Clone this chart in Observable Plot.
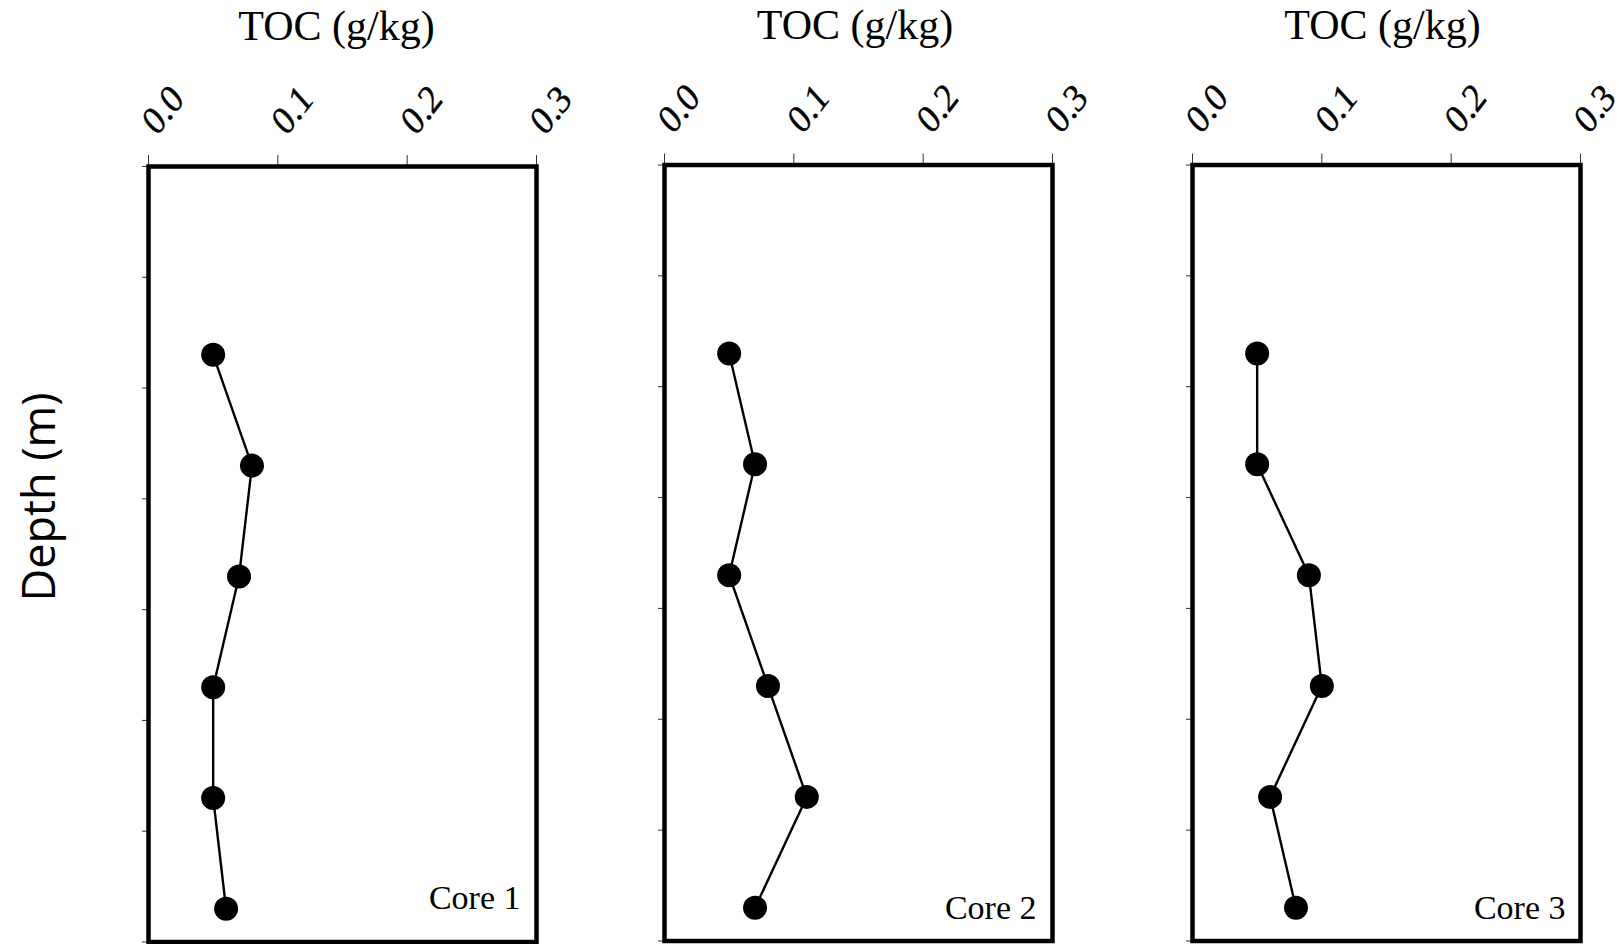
<!DOCTYPE html>
<html><head><meta charset="utf-8">
<script src="https://cdn.jsdelivr.net/npm/d3@7"></script>
<script src="https://cdn.jsdelivr.net/npm/@observablehq/plot@0.6"></script>
<style>
html,body{margin:0;padding:0;background:#fff;overflow:hidden;}
#chart{position:relative;width:1619px;height:944px;background:#fff;}
#chart svg{position:absolute;top:0;}
</style></head><body><div id="chart"></div>
<script>
// ---- data ----
const cores = ["Core 1", "Core 2", "Core 3"];
const depths = [1.7, 2.7, 3.7, 4.7, 5.7, 6.7];
const toc1 = [0.05, 0.08, 0.07, 0.05, 0.05, 0.06];
const toc2 = [0.05, 0.07, 0.05, 0.08, 0.11, 0.07];
const toc3 = [0.05, 0.05, 0.09, 0.10, 0.06, 0.08];
const series = [toc1, toc2, toc3];
const xTicks = [0, 0.1, 0.2, 0.3];
const xTickLabels = ["0.0", "0.1", "0.2", "0.3"];
const yTicks = [0, 1, 2, 3, 4, 5, 6, 7];
const xTitle = "TOC (g/kg)";
const yTitle = "Depth (m)";

// ---- layout (page pixels) ----
const layout = [
  {frameLeft: 148, frameTop: 166, frameBottom: 941.5, titleDx: -6, titleBase: 39, coreBase: 908, coreDx: -16},
  {frameLeft: 663.5, frameTop: 164.5, frameBottom: 940.5, titleDx: -3.5, titleBase: 38, coreBase: 918, coreDx: -16},
  {frameLeft: 1192, frameTop: 164.5, frameBottom: 940.5, titleDx: -4, titleBase: 38, coreBase: 918, coreDx: -15}
];
const frameWidth = 388;
const H = 944;
const serif = "'Liberation Serif', 'Times New Roman', serif";
const sans = "'Open Sans', 'Noto Sans', sans-serif";

const chart = document.getElementById("chart");

cores.forEach((core, i) => {
  const L = layout[i];
  const marginLeft = i === 0 ? 148 : 70;
  const marginRight = 70;
  const width = marginLeft + frameWidth + marginRight;
  const marginTop = L.frameTop;
  const marginBottom = H - L.frameBottom;
  const data = depths.map((d, j) => ({depth: d, toc: series[i][j]}));
  const marks = [
    Plot.axisX(xTicks, {anchor: "top", tickSize: 12, tickFormat: () => "", label: null, stroke: "#333", strokeWidth: 1}),
    Plot.axisY(yTicks, {anchor: "left", tickSize: 6, tickFormat: () => "", label: null, stroke: "#333", strokeWidth: 1}),
    Plot.frame({stroke: "black", strokeWidth: 4.5}),
    Plot.text(xTicks, {x: d => d, text: (d, j) => xTickLabels[j], frameAnchor: "top", dy: -38, rotate: -52,
      textAnchor: "start", lineAnchor: "middle", fontSize: 37, fontStyle: "italic", fontFamily: serif,
      fill: "black", stroke: "black", strokeWidth: 0.4}),
    Plot.text([xTitle], {frameAnchor: "top", dx: L.titleDx, dy: (L.titleBase - 0.32 * 42) - L.frameTop,
      lineAnchor: "middle", fontSize: 42, fontFamily: serif, fill: "black"}),
    Plot.line(data, {x: "toc", y: "depth", stroke: "black", strokeWidth: 2.4}),
    Plot.dot(data, {x: "toc", y: "depth", r: 12, fill: "black", stroke: "none"}),
    Plot.text([core], {frameAnchor: "bottom-right", dx: L.coreDx, dy: (L.coreBase - 0.32 * 34) - L.frameBottom,
      textAnchor: "end", lineAnchor: "middle", fontSize: 34, fontFamily: serif, fill: "black"})
  ];
  if (i === 0) {
    marks.push(Plot.text([yTitle], {frameAnchor: "left", dx: 40.5 - L.frameLeft,
      dy: 496.5 - (L.frameTop + L.frameBottom) / 2, rotate: -90, textAnchor: "middle", lineAnchor: "middle",
      fontSize: 45, fontFamily: sans, fill: "black"}));
  }
  const svg = Plot.plot({
    width, height: H, marginLeft, marginRight, marginTop, marginBottom,
    style: {background: "transparent", overflow: "visible"},
    x: {domain: [0, 0.3]},
    y: {domain: [0, 7], reverse: true},
    marks
  });
  svg.style.left = (L.frameLeft - marginLeft) + "px";
  chart.appendChild(svg);
});
</script></body></html>
